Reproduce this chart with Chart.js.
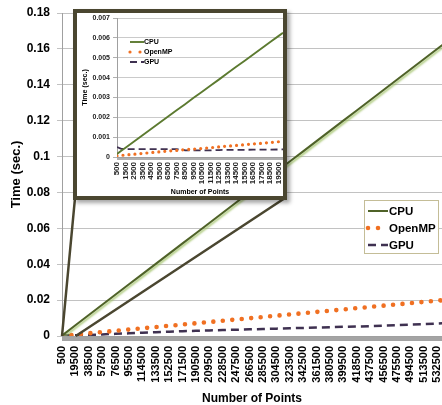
<!DOCTYPE html>
<html><head><meta charset="utf-8">
<script src="https://cdn.jsdelivr.net/npm/chart.js@4"></script>
<style>
html,body{margin:0;padding:0;background:#fff;overflow:hidden;}
#wrap{position:relative;width:442px;height:405px;overflow:hidden;background:#fff;}
#main{position:absolute;left:0;top:0;width:442px;height:405px;}
#insetBox{position:absolute;left:73px;top:9px;width:206px;height:183px;border:4px solid #4a4630;background:#fff;box-shadow:3px 3px 4px rgba(0,0,0,0.35);}
#inset{position:absolute;left:0;top:0;width:206px;height:183px;}
</style></head>
<body>
<div id="wrap">
<canvas id="main" width="442" height="405"></canvas>
<div id="insetBox"><canvas id="inset" width="206" height="183"></canvas></div>
</div>
<script>
// ---------- data ----------
const seriesNames = ['CPU', 'OpenMP', 'GPU'];

const mainX = [500,19500,38500,57500,76500,95500,114500,133500,152500,171500,190500,209500,228500,247500,266500,285500,304500,323500,342500,361500,380500,399500,418500,437500,456500,475500,494500,513500,532500,551500];
const mainXLabels = ['500','19500','38500','57500','76500','95500','114500','133500','152500','171500','190500','209500','228500','247500','266500','285500','304500','323500','342500','361500','380500','399500','418500','437500','456500','475500','494500','513500','532500'];
const cpuMain = [0.0002,0.0060,0.0117,0.0174,0.0231,0.0288,0.0345,0.0402,0.0459,0.0516,0.0573,0.0630,0.0687,0.0744,0.0801,0.0858,0.0915,0.0972,0.1029,0.1086,0.1143,0.1200,0.1257,0.1314,0.1371,0.1428,0.1485,0.1542,0.1599,0.1656];
const ompMain = [0.0001,0.0008,0.0015,0.0022,0.0029,0.0036,0.0043,0.0050,0.0057,0.0064,0.0071,0.0078,0.0085,0.0092,0.0099,0.0106,0.0113,0.0120,0.0127,0.0134,0.0141,0.0148,0.0155,0.0162,0.0169,0.0176,0.0183,0.0190,0.0197,0.0204];
const gpuMain = [0.0005,0.0004,0.0006,0.0009,0.0012,0.0015,0.0018,0.0021,0.0024,0.0027,0.0029,0.0031,0.0033,0.0035,0.0037,0.0039,0.0041,0.0043,0.0045,0.0047,0.0049,0.0051,0.0053,0.0055,0.0058,0.0060,0.0063,0.0066,0.0069,0.0073];

const insetX = [500,1000,1500,2500,3500,4500,5500,6500,7500,8500,9500,10500,11500,12500,13500,14500,15500,16500,17500,18500,19500,20000];
const insetXLabels = ['500','1500','2500','3500','4500','5500','6500','7500','8500','9500','10500','11500','12500','13500','14500','15500','16500','17500','18500','19500'];
const cpuInset = [0.00015,0.00031,0.00047,0.00078,0.00110,0.00141,0.00172,0.00204,0.00235,0.00266,0.00298,0.00329,0.00360,0.00391,0.00423,0.00454,0.00485,0.00516,0.00548,0.00579,0.00610,0.00626];
const ompInset = [0.00006,0.00008,0.00010,0.00014,0.00018,0.00022,0.00026,0.00030,0.00033,0.00037,0.00040,0.00043,0.00047,0.00051,0.00055,0.00058,0.00062,0.00066,0.00069,0.00073,0.00077,0.00079];
const gpuInset = [0.00050,0.00041,0.00040,0.00040,0.00040,0.00040,0.00040,0.00040,0.00040,0.00034,0.00033,0.00033,0.00033,0.00035,0.00036,0.00036,0.00036,0.00037,0.00037,0.00037,0.00038,0.00038];

// ---------- helpers ----------
const FONT = "'Liberation Sans', Arial, sans-serif";
const pts = (xs, ys) => xs.map((x, i) => ({x: x, y: ys[i]}));
function zeroPad(s){ s.paddingLeft = 0; s.paddingRight = 0; s.paddingTop = 0; s.paddingBottom = 0; }
const mainLabelSet = new Set(mainXLabels.map(Number));
const insetLabelSet = new Set(insetXLabels.map(Number));
const fmt = v => String(+Number(v).toFixed(4));

const COL_CPU = '#4f6228', COL_CPU_IN = '#5c7a30', COL_OMP = '#f07022', COL_GPU = '#3f3151';
const BORDER = '#4a4630';

const cpuShadow = {
  id: 'cpuShadow',
  beforeDatasetDraw(chart, args) {
    if (args.index === 0) {
      const c = chart.ctx; c.save();
      c.shadowColor = 'rgba(155,190,95,0.85)'; c.shadowOffsetX = 1.5; c.shadowOffsetY = 1.5; c.shadowBlur = 2;
    }
  },
  afterDatasetDraw(chart, args) { if (args.index === 0) chart.ctx.restore(); }
};

const zoomLines = {
  id: 'zoomLines',
  afterDatasetsDraw(chart) {
    const {ctx, scales: {x, y}} = chart;
    const box = document.getElementById('insetBox');
    const bl = box.offsetLeft + 2, br = box.offsetLeft + box.offsetWidth - 2, bb = box.offsetTop + box.offsetHeight - 2;
    const y0 = y.getPixelForValue(0);
    ctx.save();
    ctx.strokeStyle = BORDER; ctx.lineWidth = 2.5;
    ctx.beginPath();
    ctx.moveTo(x.getPixelForValue(insetX[0]), y0); ctx.lineTo(bl, bb);
    ctx.moveTo(x.getPixelForValue(insetX[insetX.length - 1]), y0); ctx.lineTo(br, bb);
    ctx.stroke();
    ctx.restore();
  }
};

function makeLegend(id, cfg) {
  return {
    id: id,
    afterDraw(chart) {
      const ctx = chart.ctx; ctx.save();
      if (cfg.box) {
        ctx.fillStyle = '#fff'; ctx.fillRect(cfg.box[0], cfg.box[1], cfg.box[2], cfg.box[3]);
        ctx.strokeStyle = '#c4bd97'; ctx.lineWidth = 1; ctx.strokeRect(cfg.box[0], cfg.box[1], cfg.box[2], cfg.box[3]);
      }
      chart.data.datasets.forEach((ds, i) => {
        const yy = cfg.y0 + i * cfg.dy;
        const dotted = ds.borderDash && ds.borderDash[0] === 0;
        ctx.save();
        ctx.strokeStyle = ds.borderColor; ctx.lineWidth = ds.borderWidth;
        ctx.setLineDash(dotted ? [0, cfg.dotGap] : (ds.borderDash || []));
        ctx.lineCap = ds.borderCapStyle || 'butt';
        ctx.beginPath(); ctx.moveTo(cfg.x0, yy); ctx.lineTo(dotted ? cfg.x0 + cfg.dotGap + 0.5 : cfg.x1, yy); ctx.stroke();
        ctx.restore();
        ctx.fillStyle = '#000'; ctx.font = 'bold ' + cfg.size + 'px ' + FONT; ctx.textBaseline = 'middle';
        ctx.fillText(ds.label, cfg.tx, yy + 0.5);
      });
      ctx.restore();
    }
  };
}

// ---------- main chart ----------
new Chart(document.getElementById('main'), {
  type: 'line',
  data: { datasets: [
    { label: seriesNames[0], data: pts(mainX, cpuMain), borderColor: COL_CPU, borderWidth: 2, pointRadius: 0, tension: 0 },
    { label: seriesNames[1], data: pts(mainX, ompMain), borderColor: COL_OMP, borderWidth: 4.6, borderDash: [0, 9.5], borderCapStyle: 'round', pointRadius: 0 },
    { label: seriesNames[2], data: pts(mainX, gpuMain), borderColor: COL_GPU, borderWidth: 2.5, borderDash: [8, 5], pointRadius: 0 }
  ]},
  options: {
    responsive: false, animation: false, events: [],
    layout: { padding: { top: 13, left: 0, right: 0, bottom: 0 } },
    plugins: { legend: { display: false }, tooltip: { enabled: false } },
    scales: {
      x: {
        type: 'linear', min: 500, max: 539500,
        afterBuildTicks(s) { const t = []; for (let v = 500; v <= 539500; v += 1000) t.push({value: v}); s.ticks = t; },
        afterFit(s) { s.height = 69; zeroPad(s); },
        ticks: { autoSkip: false, minRotation: 90, maxRotation: 90, padding: 5, color: '#000',
                 font: { family: FONT, size: 11, weight: 'bold' },
                 callback: v => mainLabelSet.has(v) ? String(v) : '' },
        grid: { drawOnChartArea: false, drawTicks: true, tickLength: 5, tickColor: '#a4a4a4' },
        border: { color: '#a0a0a0' },
        title: { display: true, text: 'Number of Points', color: '#000',
                 font: { family: FONT, size: 12, weight: 'bold', lineHeight: 1 }, padding: { top: 0, bottom: 0 } }
      },
      y: {
        min: 0, max: 0.18,
        afterFit(s) { s.width = 62; zeroPad(s); },
        ticks: { stepSize: 0.02, padding: 7, color: '#000', font: { family: FONT, size: 12, weight: 'bold' }, callback: fmt },
        grid: { color: '#c2c2c2', tickLength: 5, tickColor: '#c2c2c2' },
        border: { color: '#a0a0a0' },
        title: { display: true, text: 'Time (sec.)', color: '#000',
                 font: { family: FONT, size: 13, weight: 'bold', lineHeight: 1.2 }, padding: { top: 9, bottom: 0 } }
      }
    }
  },
  plugins: [cpuShadow, zoomLines, makeLegend('mainLegend', { box: [364.5, 200.5, 74, 53], x0: 368, x1: 388, y0: 211, dy: 17, tx: 389, size: 11.5, dotGap: 10 })]
});

// ---------- inset chart ----------
new Chart(document.getElementById('inset'), {
  type: 'line',
  data: { datasets: [
    { label: seriesNames[0], data: pts(insetX, cpuInset), borderColor: COL_CPU_IN, borderWidth: 1.9, pointRadius: 0 },
    { label: seriesNames[1], data: pts(insetX, ompInset), borderColor: COL_OMP, borderWidth: 3.2, borderDash: [0, 6], borderCapStyle: 'round', pointRadius: 0 },
    { label: seriesNames[2], data: pts(insetX, gpuInset), borderColor: COL_GPU, borderWidth: 1.8, borderDash: [7, 4], pointRadius: 0 }
  ]},
  options: {
    responsive: false, animation: false, events: [],
    layout: { padding: { top: 5, left: 0, right: 0, bottom: 0 } },
    plugins: { legend: { display: false }, tooltip: { enabled: false } },
    scales: {
      x: {
        type: 'linear', min: 500, max: 20000,
        afterBuildTicks(s) { const t = []; for (let v = 500; v <= 20000; v += 100) t.push({value: v}); s.ticks = t; },
        afterFit(s) { s.height = 39; zeroPad(s); },
        ticks: { autoSkip: false, minRotation: 90, maxRotation: 90, padding: 2, color: '#222',
                 font: { family: FONT, size: 8, weight: 'bold' },
                 callback: v => insetLabelSet.has(v) ? String(v) : '' },
        grid: { drawOnChartArea: false, tickLength: 3, tickColor: '#b0b0b0' },
        border: { color: '#a0a0a0' },
        title: { display: true, text: 'Number of Points', color: '#000',
                 font: { family: FONT, size: 7, weight: 'bold', lineHeight: 1 }, padding: { top: 0, bottom: 0.5 } }
      },
      y: {
        min: 0, max: 0.007,
        afterFit(s) { s.width = 40; zeroPad(s); },
        ticks: { stepSize: 0.001, padding: 3, color: '#222', font: { family: FONT, size: 7, weight: 'bold' }, callback: fmt },
        grid: { color: '#cacaca', tickLength: 4, tickColor: '#b0b0b0' },
        border: { color: '#a0a0a0' },
        title: { display: true, text: 'Time (sec.)', color: '#000',
                 font: { family: FONT, size: 7, weight: 'bold', lineHeight: 1.2 }, padding: { top: 4, bottom: 0 } }
      }
    }
  },
  plugins: [makeLegend('insetLegend', { x0: 53, x1: 67, y0: 29, dy: 10, tx: 67, size: 7, dotGap: 10 })]
});
</script>
</body></html>
